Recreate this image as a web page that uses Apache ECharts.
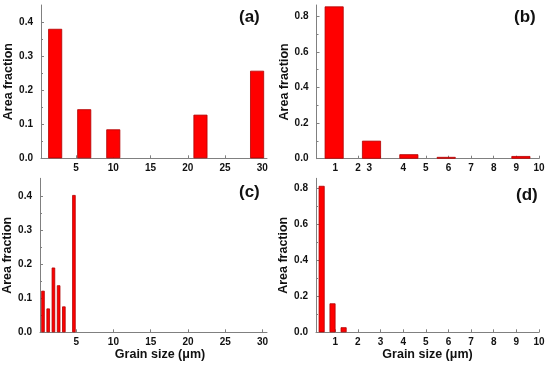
<!DOCTYPE html>
<html>
<head>
<meta charset="utf-8">
<script src="https://cdn.jsdelivr.net/npm/echarts@6/dist/echarts.min.js"></script>
<style>html,body{margin:0;padding:0;background:#fff}#c{width:550px;height:366px}</style>
</head>
<body>
<div id="c"></div>
<script>
// Panel (a)
const aX = [2.2, 6.1, 10.0, 21.7, 29.3];
const aY = [0.38, 0.144, 0.085, 0.128, 0.257];
// Panel (b)
const bX = [0.95, 2.6, 4.25, 5.9, 9.2];
const bY = [0.855, 0.101, 0.025, 0.01, 0.015];
// Panel (c)
const cX = [0.55, 1.25, 1.95, 2.65, 3.35, 4.7];
const cY = [0.122, 0.070, 0.19, 0.138, 0.076, 0.403];
// Panel (d)
const dX = [0.4, 0.88, 1.37];
const dY = [0.814, 0.161, 0.028];

// tick labels
const xTicksWide = [5, 10, 15, 20, 25, 30];
const xTicksNarrow = [1, 2, 3, 4, 5, 6, 7, 8, 9, 10];
const bLabelPos = [1, 2, 2.5, 4, 5, 6, 7, 8, 9, 10];
const bLabelText = ['1', '2', '3', '4', '5', '6', '7', '8', '9', '10'];
const yTicksSmall = [0, 0.1, 0.2, 0.3, 0.4];
const yMinorSmall = [0.05, 0.15, 0.25, 0.35];
const yTicksLarge = [0, 0.2, 0.4, 0.6, 0.8];
const yMinorLarge = [0.1, 0.3, 0.5, 0.7];
const panelLabels = ['(a)', '(b)', '(c)', '(d)'];
const yTitle = 'Area fraction';
const xTitle = 'Grain size (μm)';

const FONT = 'Liberation Sans, Arial, sans-serif';
const AX = '#808080';

const grids = [
  {left: 41, top: 5, width: 226, height: 153.3},
  {left: 316.5, top: 5, width: 222.5, height: 153.7},
  {left: 40, top: 178.3, width: 227, height: 154},
  {left: 316, top: 178.3, width: 223, height: 154}
];

function xAxis(i, min, max, ticks, labelPos, labelText, showName) {
  return {
    type: 'value', gridIndex: i, min: min, max: max,
    splitLine: {show: false},
    axisLine: {show: true, onZero: false, lineStyle: {color: AX, width: 1}},
    axisTick: {show: true, inside: true, length: 3, customValues: ticks, lineStyle: {color: AX}},
    axisLabel: {
      customValues: labelPos, margin: 5, color: '#111', fontFamily: FONT, fontWeight: 'bold', fontSize: 10,
      formatter: function (v) {
        for (let k = 0; k < labelPos.length; k++) if (Math.abs(labelPos[k] - v) < 1e-6) return labelText[k];
        return '';
      }
    },
    name: showName ? xTitle : '',
    nameLocation: 'middle', nameGap: 14,
    nameTextStyle: {color: '#111', fontFamily: FONT, fontWeight: 'bold', fontSize: 12.5,
      padding: i === 2 ? [0, 0, 0, 13] : 0}
  };
}
function yAxis(i, max, ticks) {
  return {
    type: 'value', gridIndex: i, min: 0, max: max,
    splitLine: {show: false},
    axisLine: {show: true, lineStyle: {color: AX, width: 1}},
    axisTick: {show: true, inside: true, length: 3, customValues: ticks, lineStyle: {color: AX}},
    axisLabel: {customValues: ticks, margin: 8, color: '#111', fontFamily: FONT, fontWeight: 'bold', fontSize: 10,
      formatter: function (v) { return v.toFixed(1); }},
    name: yTitle, nameLocation: 'middle', nameRotate: 90, nameGap: 23,
    nameTextStyle: {color: '#111', fontFamily: FONT, fontWeight: 'bold', fontSize: 12.5}
  };
}
function yMinor(i, max, ticks) {
  return {
    type: 'value', gridIndex: i, min: 0, max: max, position: 'left',
    splitLine: {show: false},
    axisLine: {show: false},
    axisTick: {show: true, inside: true, length: 2, customValues: ticks, lineStyle: {color: AX}},
    axisLabel: {show: false}
  };
}
function bars(i, xs, ys, w) {
  return {
    type: 'bar', xAxisIndex: i, yAxisIndex: i, barWidth: w,
    itemStyle: {color: '#ff0000', borderColor: '#b00000', borderWidth: 0.8},
    data: xs.map((x, k) => [x, ys[k]])
  };
}

const chart = echarts.init(document.getElementById('c'), null, {renderer: 'canvas'});
chart.setOption({
  animation: false,
  backgroundColor: '#fff',
  grid: grids,
  xAxis: [
    xAxis(0, 0.3, 30.63, xTicksWide, xTicksWide, xTicksWide.map(String), false),
    xAxis(1, 0.17, 10, xTicksNarrow, bLabelPos, bLabelText, false),
    xAxis(2, 0.15, 30.6, xTicksWide, xTicksWide, xTicksWide.map(String), true),
    xAxis(3, 0.15, 10, xTicksNarrow, xTicksNarrow, xTicksNarrow.map(String), true)
  ],
  yAxis: [
    yAxis(0, 0.45, yTicksSmall),
    yAxis(1, 0.863, yTicksLarge),
    yAxis(2, 0.452, yTicksSmall),
    yAxis(3, 0.856, yTicksLarge),
    yMinor(0, 0.45, yMinorSmall),
    yMinor(1, 0.863, yMinorLarge),
    yMinor(2, 0.452, yMinorSmall),
    yMinor(3, 0.856, yMinorLarge)
  ],
  title: [
    {text: panelLabels[0], left: 239, top: 9},
    {text: panelLabels[1], left: 514, top: 9},
    {text: panelLabels[2], left: 239, top: 184},
    {text: panelLabels[3], left: 516, top: 187}
  ].map(t => Object.assign(t, {padding: 0, textStyle: {fontFamily: FONT, fontWeight: 'bold', fontSize: 17, color: '#111'}})),
  series: [
    bars(0, aX, aY, 14),
    bars(1, bX, bY, 19),
    bars(2, cX, cY, 3.5),
    bars(3, dX, dY, 6)
  ]
});
</script>
</body>
</html>
